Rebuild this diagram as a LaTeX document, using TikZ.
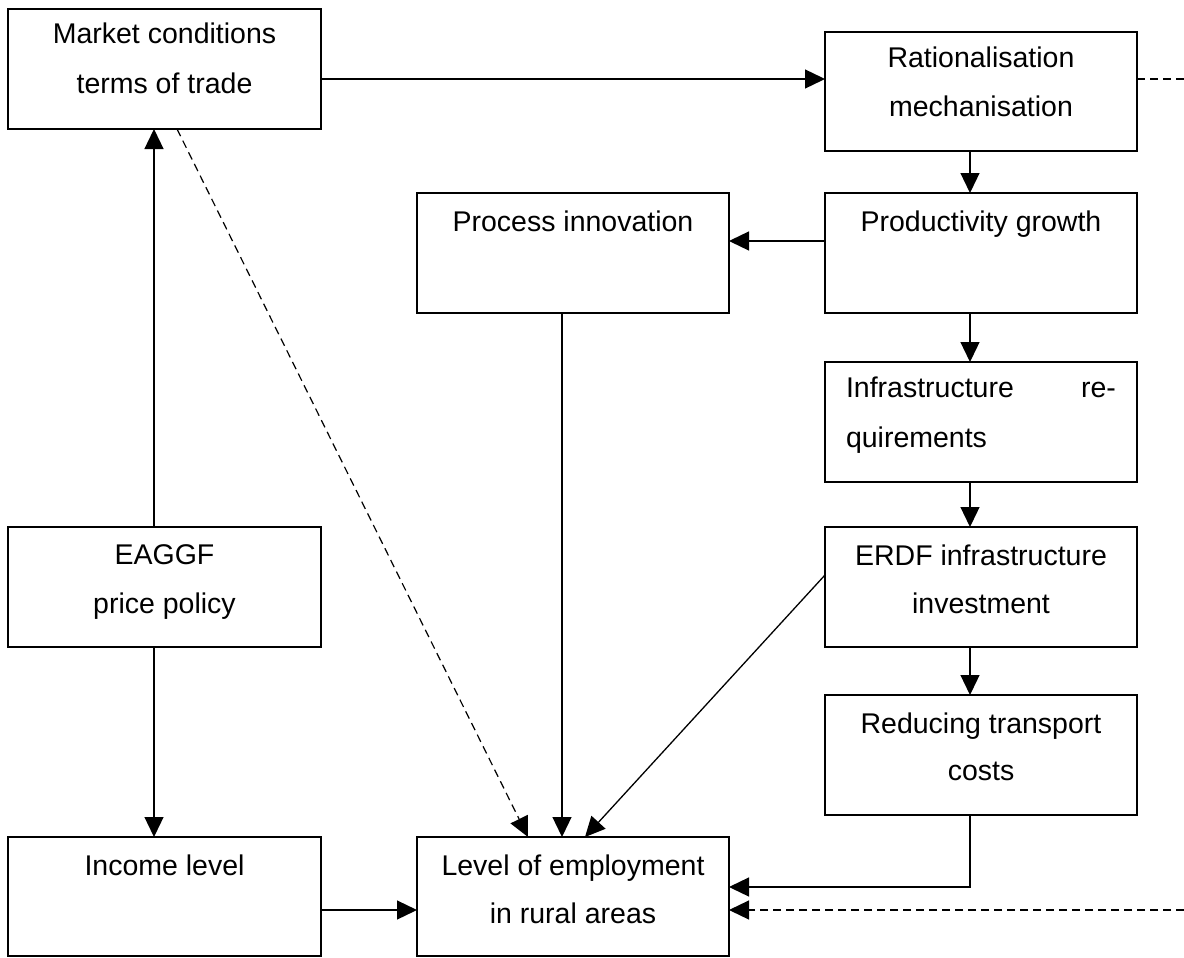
\documentclass[tikz,border=0pt]{standalone}
\usepackage{fontspec}
\setmainfont{Liberation Sans}
\usetikzlibrary{arrows.meta}

\begin{document}
\begin{tikzpicture}[x=1pt,y=-1pt,
  box/.style={draw, line width=1.3pt, inner sep=0pt, outer sep=0pt,
              minimum width=312pt, minimum height=120pt},
  lbl/.style={anchor=base, inner sep=0pt, font=\fontsize{28.5pt}{34pt}\selectfont},
  conn/.style={line width=1.3pt},
  arr/.style={conn, -{Triangle[length=20pt,width=19pt]}},
  dsh/.style={line width=1.2pt, dash pattern=on 8pt off 5pt}]
\useasboundingbox (0,0) rectangle (1184,958);

% boxes
\node[box, minimum width=313pt] (market) at (164.5,69) {};
\node[box, minimum height=119pt] (rational) at (981,91.5) {};
\node[box] (process) at (573,253) {};
\node[box] (prod) at (981,253) {};
\node[box] (infra) at (981,422) {};
\node[box] (erdf) at (981,587) {};
\node[box] (transport) at (981,755) {};
\node[box, minimum width=313pt] (eaggf) at (164.5,587) {};
\node[box, minimum width=313pt, minimum height=119pt] (income) at (164.5,896.5) {};
\node[box, minimum height=119pt] (level) at (573,896.5) {};

% box texts
\node[lbl] (t1) at ([yshift=-35pt]market.north) {Market conditions};
\node[lbl] (t2) at ([yshift=-85pt]market.north) {terms of trade};
\node[lbl] (t3) at ([yshift=-36pt]rational.north) {Rationalisation};
\node[lbl] (t4) at ([yshift=-85pt]rational.north) {mechanisation};
\node[lbl] (t5) at ([yshift=-38pt]process.north) {Process innovation};
\node[lbl] (t6) at ([yshift=-38pt]prod.north) {Productivity growth};
\node[lbl] (t7) at ([yshift=-35pt]infra.north) {\makebox[270pt][s]{Infrastructure\hfill re-}};
\node[lbl] (t8) at ([yshift=-85pt]infra.north) {\makebox[270pt][l]{quirements}};
\node[lbl] (t9) at ([yshift=-38pt]erdf.north) {ERDF infrastructure};
\node[lbl] (t10) at ([yshift=-86pt]erdf.north) {investment};
\node[lbl] (t11) at ([yshift=-38pt]transport.north) {Reducing transport};
\node[lbl] (t12) at ([yshift=-85pt]transport.north) {costs};
\node[lbl] (t13) at ([yshift=-37pt]eaggf.north) {EAGGF};
\node[lbl] (t14) at ([yshift=-86pt]eaggf.north) {price policy};
\node[lbl] (t15) at ([yshift=-38pt]income.north) {Income level};
\node[lbl] (t16) at ([yshift=-38pt]level.north) {Level of employment};
\node[lbl] (t17) at ([yshift=-86pt]level.north) {in rural areas};

% guide coordinates for connector rows and columns
\coordinate (rowA) at (0,79);
\coordinate (rowB) at (0,241);
\coordinate (rowC) at (0,887);
\coordinate (rowD) at (0,910);
\coordinate (colR) at (970,0);
\coordinate (colL) at (154,0);
\coordinate (colP) at (562,0);
\coordinate (outA) at (1184,79);
\coordinate (outD) at (1184,910);
\coordinate (bend) at (970,887);
\coordinate (dstart) at (177,0);
\coordinate (dend) at (528,0);
\coordinate (eend) at (585,0);
\coordinate (erow) at (0,575);

% connectors
\draw[arr] (market.east |- rowA) -- (rational.west |- rowA);
\draw[dsh] (rational.east |- rowA) -- (outA);
\draw[arr] (rational.south -| colR) -- (prod.north -| colR);
\draw[arr] (prod.south -| colR) -- (infra.north -| colR);
\draw[arr] (infra.south -| colR) -- (erdf.north -| colR);
\draw[arr] (erdf.south -| colR) -- (transport.north -| colR);
\draw[arr] (prod.west |- rowB) -- (process.east |- rowB);
\draw[arr] (process.south -| colP) -- (level.north -| colP);
\draw[arr] (transport.south -| colR) -- (bend) -- (level.east |- rowC);
\draw[dsh, -{Triangle[length=20pt,width=19pt]}] (outD) -- (level.east |- rowD);
\draw[arr] (income.east |- rowD) -- (level.west |- rowD);
\draw[arr] (eaggf.north -| colL) -- (market.south -| colL);
\draw[arr] (eaggf.south -| colL) -- (income.north -| colL);
\draw[dsh, -{Triangle[length=20pt,width=19pt]}] (market.south -| dstart) -- (level.north -| dend);
\draw[conn, -{Triangle[length=20pt,width=19pt]}] (erdf.west |- erow) -- (level.north -| eend);
\end{tikzpicture}
\end{document}
